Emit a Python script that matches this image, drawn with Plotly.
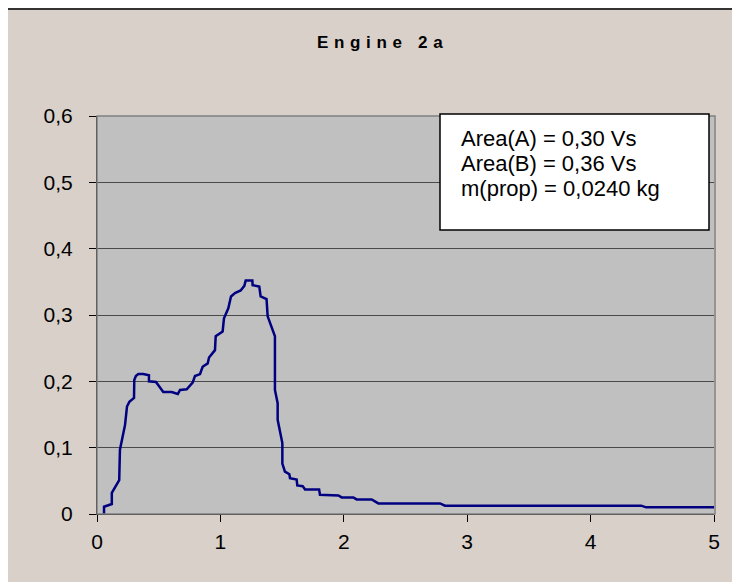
import plotly.graph_objects as go

# time (s) and voltage-like values (V)
t = [0.057, 0.057, 0.12, 0.12, 0.18, 0.186, 0.227, 0.243, 0.262, 0.30,
     0.302, 0.315, 0.335, 0.375, 0.421, 0.421, 0.478, 0.537, 0.605, 0.645,
     0.655, 0.673, 0.727, 0.775, 0.794, 0.835, 0.856, 0.897, 0.908, 0.956,
     0.962, 1.018, 1.029, 1.064, 1.086, 1.118, 1.164, 1.194, 1.205, 1.259,
     1.261, 1.315, 1.326, 1.374, 1.383, 1.442, 1.442, 1.464, 1.464, 1.502,
     1.502, 1.523, 1.559, 1.564, 1.618, 1.623, 1.667, 1.686, 1.80, 1.807,
     1.956, 1.983, 2.077, 2.104, 2.226, 2.28, 2.78, 2.82, 4.41, 4.45, 5.0]
v = [0, 0.011, 0.015, 0.032, 0.051, 0.097, 0.134, 0.162, 0.169, 0.175,
     0.202, 0.208, 0.211, 0.211, 0.209, 0.200, 0.199, 0.184, 0.184, 0.181,
     0.181, 0.187, 0.188, 0.198, 0.208, 0.211, 0.222, 0.227, 0.236, 0.247,
     0.268, 0.275, 0.295, 0.310, 0.328, 0.333, 0.337, 0.344, 0.352, 0.352,
     0.345, 0.343, 0.328, 0.324, 0.298, 0.268, 0.187, 0.167, 0.142, 0.107,
     0.076, 0.064, 0.060, 0.054, 0.052, 0.043, 0.042, 0.037, 0.037, 0.029,
     0.028, 0.025, 0.025, 0.022, 0.022, 0.016, 0.016, 0.0126, 0.0126, 0.01, 0.01]

title_text = "Engine 2a"
info_lines = ["Area(A) = 0,30 Vs", "Area(B) = 0,36 Vs", "m(prop) = 0,0240 kg"]
x_ticks = [0, 1, 2, 3, 4, 5]
y_ticks = [0, 0.1, 0.2, 0.3, 0.4, 0.5, 0.6]
y_tick_labels = ["0", "0,1", "0,2", "0,3", "0,4", "0,5", "0,6"]

OFF = 8  # default page body margin
W, H = 740 - OFF, 582 - OFF
L, R, T, B = 97 - OFF, 714 - OFF, 116 - OFF, 514 - OFF


def px(xp):
    return (xp - OFF - L) / (R - L)


def py(yp):
    return (B - (yp - OFF)) / (B - T)


spaced_title = "\u2004".join(title_text)

fig = go.Figure()
fig.add_trace(go.Scatter(x=t, y=v, mode="lines",
                         line=dict(color="#000080", width=2.5),
                         showlegend=False, hoverinfo="skip"))

fig.update_layout(
    width=W, height=H,
    margin=dict(l=L, r=W - R, t=T, b=H - B, pad=0),
    paper_bgcolor="#D8D0C9",
    plot_bgcolor="#C0C0C0",
    separators=",.",
    font=dict(family="Liberation Sans, Arial, sans-serif", size=21, color="black"),
    xaxis=dict(range=[0, 5], tickvals=x_ticks, showgrid=False, zeroline=False,
               showline=True, linecolor="black", linewidth=1,
               ticks="outside", ticklen=7, tickcolor="black", tickwidth=1,
               ticklabelstandoff=2,
               tickfont=dict(size=21)),
    yaxis=dict(range=[0, 0.6], tickvals=y_ticks, ticktext=y_tick_labels,
               showgrid=True, gridcolor="#4a4a4a", gridwidth=1, zeroline=False,
               showline=True, linecolor="black", linewidth=1,
               ticks="outside", ticklen=7, tickcolor="black", tickwidth=1,
               ticklabelstandoff=12,
               tickfont=dict(size=21)),
    shapes=[
        # outer chart border
        dict(type="rect", xref="paper", yref="paper",
             x0=px(7), x1=px(760), y0=py(600), y1=py(9),
             line=dict(color="black", width=1.5), layer="below"),
        # plot area border (grey)
        dict(type="rect", xref="paper", yref="paper",
             x0=0, x1=px(715), y0=0, y1=1,
             line=dict(color="#808080", width=1.5), layer="above"),
        # info box
        dict(type="rect", xref="paper", yref="paper",
             x0=px(440), x1=px(709), y0=py(230), y1=py(114),
             fillcolor="white", line=dict(color="black", width=1.5),
             layer="above"),
    ],
)

fig.add_annotation(text="<b>" + spaced_title + "</b>", xref="paper", yref="paper",
                   x=px(380), y=py(43), showarrow=False,
                   xanchor="center", yanchor="middle",
                   font=dict(size=17, color="black"))

for line, yc in zip(info_lines, [138, 163, 188]):
    fig.add_annotation(text=line, xref="paper", yref="paper",
                       x=px(459), y=py(yc), showarrow=False,
                       xanchor="left", yanchor="middle",
                       font=dict(size=22, color="black"))

fig.write_html("out.html")
